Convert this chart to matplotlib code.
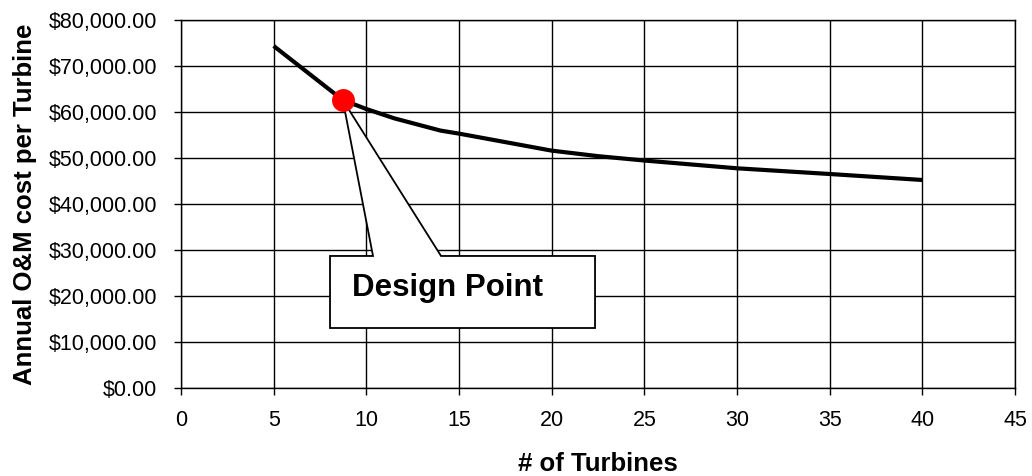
import matplotlib
matplotlib.use("Agg")
import matplotlib.pyplot as plt
from matplotlib.patches import Polygon
from matplotlib.ticker import FuncFormatter

plt.rcParams['font.family'] = ['Liberation Sans', 'DejaVu Sans']

# Annual O&M cost per turbine versus wind farm size
turbines = [5, 8.73, 10, 11.5, 14, 15, 20, 22.5, 25, 30, 35, 40]
cost = [74350, 62600, 60650, 58630, 55960, 55300, 51600, 50400, 49450, 47760, 46520, 45220]

design_turbines = 8.73
design_cost = 62600

x_ticks = [0, 5, 10, 15, 20, 25, 30, 35, 40, 45]
y_ticks = [0, 10000, 20000, 30000, 40000, 50000, 60000, 70000, 80000]

fig = plt.figure(figsize=(10.32, 4.76), dpi=100)
ax = fig.add_axes([0.1754, 0.1849, 0.8081, 0.7731])

ax.set_xlim(0, 45)
ax.set_ylim(0, 80000)
ax.set_xticks(x_ticks)
ax.set_yticks(y_ticks)
ax.yaxis.set_major_formatter(FuncFormatter(lambda v, p: f"${v:,.2f}"))

ax.grid(True, color='black', linewidth=1.0)
ax.set_axisbelow(True)
for s in ax.spines.values():
    s.set_color('black')
    s.set_linewidth(1.0)

ax.tick_params(axis='both', direction='out', length=5, width=1.0, colors='black',
               labelsize=15.5)
ax.tick_params(axis='y', pad=12)
ax.tick_params(axis='x', pad=11)

ax.plot(turbines, cost, color='black', linewidth=3.0, solid_joinstyle='round',
        solid_capstyle='butt', zorder=3)

# Callout box with a pointer to the design point
box_l, box_r = 8.04, 22.34
box_b, box_t = 13040, 28700
ptr_l, ptr_r = 10.36, 14.03
callout = Polygon([(box_l, box_b), (box_l, box_t), (ptr_l, box_t),
                   (design_turbines, design_cost), (ptr_r, box_t),
                   (box_r, box_t), (box_r, box_b)],
                  closed=True, facecolor='white', edgecolor='black',
                  linewidth=1.3, zorder=4)
ax.add_patch(callout)
ax.text(9.23, 21700, "Design Point", fontsize=22.5, fontweight='bold',
        ha='left', va='center', color='black', zorder=5)

ax.plot([design_turbines], [design_cost], marker='o', markersize=16.5,
        color='#ff0000', markeredgewidth=0, linestyle='none', zorder=6)

ax.set_xlabel("# of Turbines", fontsize=18.5, fontweight='bold')
ax.xaxis.set_label_coords(0.5, -0.175)
ax.set_ylabel("Annual O&M cost per Turbine", fontsize=18.5, fontweight='bold')
ax.yaxis.set_label_coords(-0.173, 0.5)

fig.savefig("out.png", dpi=100)
